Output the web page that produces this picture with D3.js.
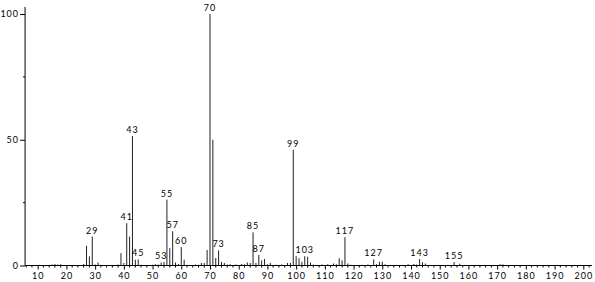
<!DOCTYPE html>
<html>
<head>
<meta charset="utf-8">
<title>Mass spectrum</title>
<script src="https://d3js.org/d3.v7.min.js"></script>
<style>
  body { margin: 0; background: #fff; }
  text { font-family: Lato, "DejaVu Sans", sans-serif; font-size: 9px; fill: #000; letter-spacing: 1px; }
</style>
</head>
<body>
<script>
// m/z values and relative intensities
var mz = [15, 16, 17, 18, 26, 27, 28, 29, 30, 31, 32, 38, 39, 40, 41, 42, 43, 44, 45, 46,
  50, 51, 52, 53, 54, 55, 56, 57, 58, 59, 60, 61, 62, 65, 66, 67, 68, 69, 70, 71,
  72, 73, 74, 75, 76, 77, 79, 81, 82, 83, 84, 85, 86, 87, 88, 89, 90, 91, 93, 95,
  97, 98, 99, 100, 101, 102, 103, 104, 105, 106, 109, 111, 113, 114, 115, 116, 117, 118, 119, 125,
  127, 128, 129, 130, 131, 139, 141, 142, 143, 144, 145, 155, 157, 171, 172];
var intensity = [0.4, 0.6, 0.4, 0.5, 0.6, 7.8, 3.6, 11.5, 0.4, 1.2, 0.3, 0.4, 4.9, 1.0, 16.8, 11.5, 51.5, 2.3, 2.4, 0.3,
  0.3, 0.5, 0.4, 1.2, 1.4, 26.2, 6.9, 13.6, 1.2, 0.6, 7.3, 2.3, 0.3, 0.4, 0.3, 1.0, 1.0, 6.2, 100, 50,
  3.0, 6.0, 1.4, 1.0, 0.4, 0.5, 0.4, 0.6, 0.5, 1.2, 1.0, 13.2, 1.0, 4.2, 2.0, 2.6, 0.5, 1.0, 0.3, 0.4,
  1.0, 1.0, 46, 3.7, 2.9, 1.5, 3.7, 3.5, 1.2, 0.4, 0.4, 0.5, 0.8, 0.5, 2.9, 2.0, 11.3, 0.8, 0.3, 0.4,
  2.4, 0.5, 1.5, 1.5, 0.5, 0.5, 0.6, 0.4, 2.6, 1.3, 0.8, 1.3, 0.7, 0.5, 0.5];
var labelled = [29, 41, 43, 45, 53, 55, 57, 60, 70, 73, 85, 87, 99, 103, 117, 127, 143, 155];
var xTicks = [10, 20, 30, 40, 50, 60, 70, 80, 90, 100, 110, 120, 130, 140, 150, 160, 170, 180, 190, 200];
var yTicks = [0, 50, 100];

const w = 595, h = 282;
const x = d3.scaleLinear().domain([10, 200]).range([37.7, 583.3]);
const y = d3.scaleLinear().domain([0, 100]).range([265.5, 14]);
const xmin = 5.6, xmax = 203;

const svg = d3.select("body").append("svg").attr("width", w).attr("height", h);

// peaks
var data = mz.map((m, i) => ({m: m, v: intensity[i]}));
svg.selectAll("line.peak")
  .data(data)
  .enter()
  .append("line")
  .attr("class", "peak")
  .attr("x1", d => x(d.m)).attr("x2", d => x(d.m))
  .attr("y1", y(0)).attr("y2", d => y(d.v))
  .attr("stroke", "#222")
  .attr("stroke-width", 1);

// peak labels
svg.selectAll("text.lab")
  .data(data.filter(d => labelled.indexOf(d.m) >= 0))
  .enter()
  .append("text")
  .attr("class", "lab")
  .attr("x", d => x(d.m))
  .attr("y", d => y(d.v) - 3)
  .attr("text-anchor", "middle")
  .text(d => d.m);

// x axis
const xAxis = d3.axisBottom(x).tickValues(xTicks).tickSize(4).tickPadding(3);
const gx = svg.append("g")
  .attr("transform", "translate(0," + y(0) + ")")
  .call(xAxis);
gx.select(".domain").remove();
gx.selectAll("text").style("font-size", "9px").attr("dy", "0.7em");
gx.append("line")
  .attr("x1", x(xmin)).attr("x2", x(xmax))
  .attr("stroke", "#000");
gx.selectAll("line.minor")
  .data(d3.range(6, 203, 2).filter(v => v % 10 != 0))
  .enter()
  .append("line")
  .attr("class", "minor")
  .attr("x1", d => x(d)).attr("x2", d => x(d))
  .attr("y1", 0).attr("y2", 2)
  .attr("stroke", "#000");

// y axis
const yAxis = d3.axisLeft(y).tickValues(yTicks).tickSize(5).tickPadding(1);
const gy = svg.append("g")
  .attr("transform", "translate(" + x(xmin) + ",0)")
  .call(yAxis);
gy.select(".domain").remove();
gy.append("line")
  .attr("y1", y(0)).attr("y2", 7)
  .attr("stroke", "#000");
gy.selectAll("line.minor")
  .data([25, 75])
  .enter()
  .append("line")
  .attr("class", "minor")
  .attr("x1", -2).attr("x2", 0)
  .attr("y1", d => y(d)).attr("y2", d => y(d))
  .attr("stroke", "#000");
</script>
</body>
</html>
